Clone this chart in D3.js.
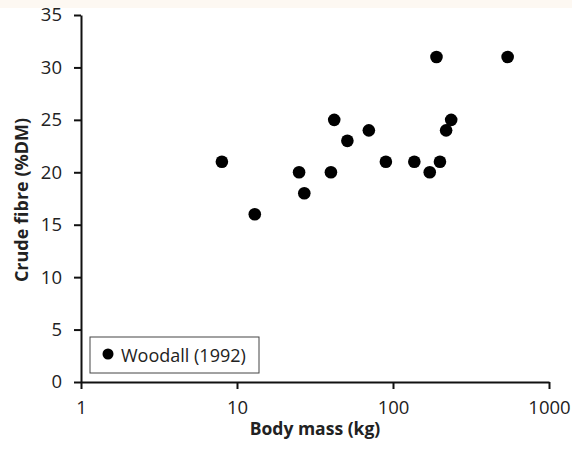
<!DOCTYPE html>
<html>
<head>
<meta charset="utf-8">
<script src="https://cdn.jsdelivr.net/npm/d3@7"></script>
<style>
  body { margin: 0; background: #fff; }
  svg { display: block; font-family: "Open Sans", sans-serif; }
</style>
</head>
<body>
<svg width="572" height="450"></svg>
<script>
// body mass (kg) and crude fibre (%DM), Woodall (1992)
const bodyMass = [8, 13, 25, 27, 40, 42, 51, 70, 90, 137, 172, 190, 200, 219, 236, 543];
const crudeFibre = [21, 16, 20, 18, 20, 25, 23, 24, 21, 21, 20, 31, 21, 24, 25, 31];
const xTicks = [1, 10, 100, 1000];
const yTicks = [0, 5, 10, 15, 20, 25, 30, 35];
const legendLabel = 'Woodall (1992)';

const svg = d3.select('svg');

// faint band at the top of the scan
svg.append('rect').attr('x', 0).attr('y', 0).attr('width', 572).attr('height', 8).attr('fill', '#fdf8f2');

const x = d3.scaleLog().domain([1, 1000]).range([81, 549]);
const y = d3.scaleLinear().domain([0, 35]).range([382, 15]);

const xAxis = svg.append('g')
    .attr('transform', 'translate(0,382)')
    .call(d3.axisBottom(x).tickValues(xTicks).tickFormat(d3.format('d')).tickSizeInner(7).tickSizeOuter(0).tickPadding(12));

const yAxis = svg.append('g')
    .attr('transform', 'translate(81,0)')
    .call(d3.axisLeft(y).tickValues(yTicks).tickSizeInner(7).tickSizeOuter(0).tickPadding(12));

[xAxis, yAxis].forEach(ax => {
    ax.select('.domain').attr('stroke', '#111').attr('stroke-width', 2);
    ax.selectAll('.tick line').attr('stroke', '#111').attr('stroke-width', 2);
    ax.selectAll('.tick text').attr('font-size', 18.5).attr('fill', '#222').attr('font-family', '"Open Sans", sans-serif');
});

// points
svg.append('g')
    .selectAll('circle')
    .data(bodyMass)
    .join('circle')
        .attr('cx', d => x(d))
        .attr('cy', (d, i) => y(crudeFibre[i]))
        .attr('r', 6.3)
        .attr('fill', '#000');

// axis titles
svg.append('text')
    .attr('x', 315).attr('y', 435)
    .attr('text-anchor', 'middle')
    .attr('font-size', 17.5).attr('font-weight', 'bold').attr('fill', '#222')
    .text('Body mass (kg)');

svg.append('text')
    .attr('transform', 'translate(28,200) rotate(-90)')
    .attr('text-anchor', 'middle')
    .attr('font-size', 18).attr('font-weight', 'bold').attr('fill', '#222')
    .text('Crude fibre (%DM)');

// legend
const legend = svg.append('g');
legend.append('rect')
    .attr('x', 90).attr('y', 337).attr('width', 169).attr('height', 36)
    .attr('fill', '#fff').attr('stroke', '#444').attr('stroke-width', 1);
legend.append('circle').attr('cx', 108).attr('cy', 354).attr('r', 5.5).attr('fill', '#000');
legend.append('text')
    .attr('x', 121).attr('y', 362)
    .attr('font-size', 18).attr('fill', '#222')
    .text(legendLabel);
</script>
</body>
</html>
